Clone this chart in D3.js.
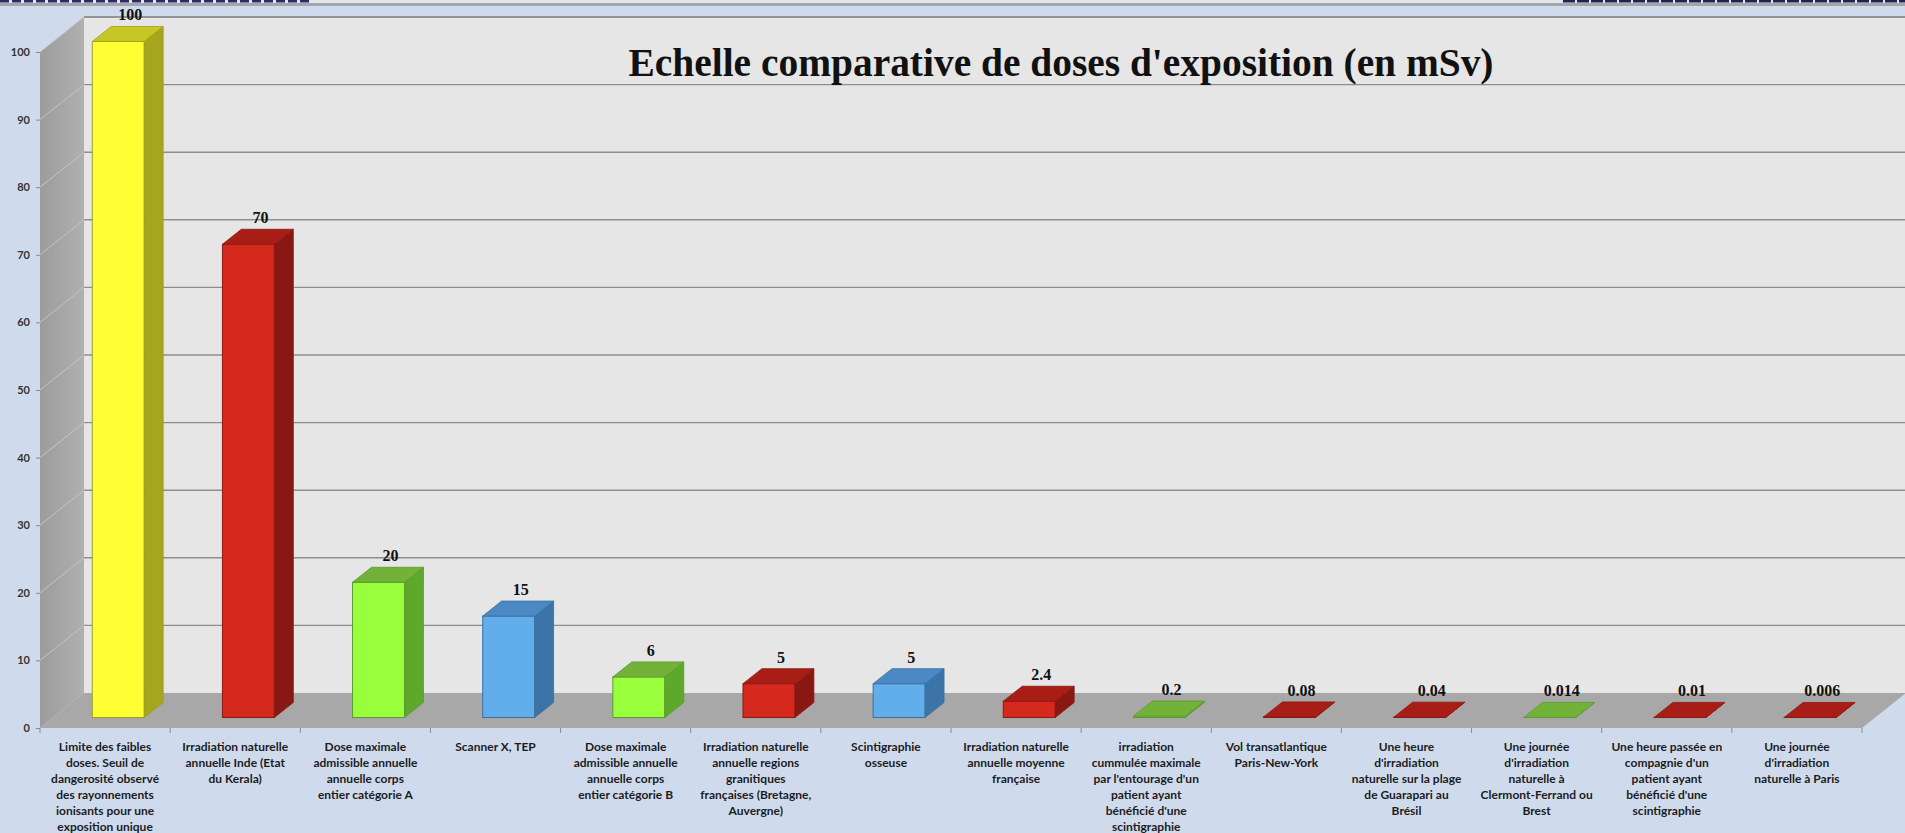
<!DOCTYPE html>
<html><head><meta charset="utf-8">
<script src="https://cdnjs.cloudflare.com/ajax/libs/d3/7.8.5/d3.min.js"></script>
<style>html,body{margin:0;padding:0;background:#cfdbed;overflow:hidden}</style>
</head><body>
<svg id="chart" width="1905" height="833"></svg>
<script>
// ---- data ----
const categories = [
  "Limite des faibles|doses. Seuil de|dangerosité observé|des rayonnements|ionisants pour une|exposition unique",
  "Irradiation naturelle|annuelle Inde (Etat|du Kerala)",
  "Dose maximale|admissible annuelle|annuelle corps|entier catégorie A",
  "Scanner X, TEP",
  "Dose maximale|admissible annuelle|annuelle corps|entier catégorie B",
  "Irradiation naturelle|annuelle regions|granitiques|françaises (Bretagne,|Auvergne)",
  "Scintigraphie|osseuse",
  "Irradiation naturelle|annuelle moyenne|française",
  "irradiation|cummulée maximale|par l'entourage d'un|patient ayant|bénéficié d'une|scintigraphie",
  "Vol transatlantique|Paris-New-York",
  "Une heure|d'irradiation|naturelle sur la plage|de Guarapari au|Brésil",
  "Une journée|d'irradiation|naturelle à|Clermont-Ferrand ou|Brest",
  "Une heure passée en|compagnie d'un|patient ayant|bénéficié d'une|scintigraphie",
  "Une journée|d'irradiation|naturelle à Paris"
];
const values = [100, 70, 20, 15, 6, 5, 5, 2.4, 0.2, 0.08, 0.04, 0.014, 0.01, 0.006];
const valueLabels = ["100","70","20","15","6","5","5","2.4","0.2","0.08","0.04","0.014","0.01","0.006"];
const colorGroups = ["yellow","red","green","blue","green","red","blue","red","green","red","red","green","red","red"];
const yTicks = [0,10,20,30,40,50,60,70,80,90,100];
const title = "Echelle comparative de doses d'exposition (en mSv)";

const palette = {
  yellow: {front:"#ffff33", side:"#a5a51e", top:"#c6c625", edge:"#a0a020"},
  red:    {front:"#d4291c", side:"#891813", top:"#a81d16", edge:"#8a1a14"},
  green:  {front:"#99ff3c", side:"#5ea82b", top:"#72b238", edge:"#5a9a2e"},
  blue:   {front:"#62aeeb", side:"#3c74a8", top:"#4b89c4", edge:"#3a70a0"}
};

// ---- layout ----
const svg = d3.select("#chart");
const D = {dx:44, dy:-35};
const x = d3.scaleBand().domain(d3.range(categories.length)).range([40,1862]).padding(0);
const y = d3.scaleLinear().domain([0,100]).range([728,52]);
const bw = x.bandwidth();
const barW = 52, f0 = 0.3, f1 = 0.73;

// top strip
svg.append("rect").attr("x",0).attr("y",0).attr("width",1905).attr("height",3).attr("fill","#e4e4ea");
svg.append("line").attr("x1",0).attr("x2",310).attr("y1",1.2).attr("y2",1.2)
  .attr("stroke","#2c2c62").attr("stroke-width",2.6).attr("stroke-dasharray","9,3");
svg.append("line").attr("x1",1563).attr("x2",1905).attr("y1",1.2).attr("y2",1.2)
  .attr("stroke","#22224e").attr("stroke-width",2.6).attr("stroke-dasharray","12,2");
svg.append("rect").attr("x",0).attr("y",3).attr("width",1905).attr("height",3).attr("fill","#a3a6ae");

// back wall
const wallTop = y(100)+D.dy, wallBottom = y(0)+D.dy;
svg.append("rect").attr("x",40+D.dx).attr("y",wallTop).attr("width",1905-40-D.dx).attr("height",wallBottom-wallTop)
  .attr("fill","#e6e6e6");
svg.append("line").attr("x1",40+D.dx).attr("x2",1905).attr("y1",wallTop).attr("y2",wallTop)
  .attr("stroke","#9a9aa2").attr("stroke-width",1.5);

// left wall
const lg = svg.append("defs").append("linearGradient").attr("id","lw").attr("x1","0").attr("x2","1").attr("y1","0").attr("y2","0");
lg.append("stop").attr("offset","0").attr("stop-color","#9c9c9c");
lg.append("stop").attr("offset","1").attr("stop-color","#b0b0b0");
svg.append("polygon")
  .attr("points",[[40,y(100)],[40+D.dx,wallTop],[40+D.dx,wallBottom],[40,y(0)]].map(p=>p.join(",")).join(" "))
  .attr("fill","url(#lw)");

// gridlines
yTicks.filter(t=>t>0).forEach(t=>{
  svg.append("line").attr("x1",40+D.dx).attr("x2",1905).attr("y1",y(t)+D.dy).attr("y2",y(t)+D.dy)
    .attr("stroke","#8e8e8e").attr("stroke-width",1.4);
  svg.append("line").attr("x1",40).attr("x2",40+D.dx).attr("y1",y(t)).attr("y2",y(t)+D.dy)
    .attr("stroke","#c4c4c4").attr("stroke-width",1);
});

// floor
svg.append("polygon")
  .attr("points",[[40,y(0)],[40+D.dx,wallBottom],[1862+D.dx,wallBottom],[1862,y(0)]].map(p=>p.join(",")).join(" "))
  .attr("fill","#a8a8a8");

// y axis
const ya = svg.append("g").attr("transform","translate(40,0)")
  .call(d3.axisLeft(y).tickValues(yTicks).tickSize(4).tickPadding(6));
ya.select(".domain").remove();
ya.selectAll("line").attr("stroke","#888");
ya.selectAll("text").attr("font-family","Lato").attr("font-weight","700").attr("font-size",11).attr("fill","#333");

// x axis ticks
const xa = svg.append("g").attr("transform",`translate(0,${y(0)})`)
  .call(d3.axisBottom(x).tickSize(0).tickFormat(""));
xa.select(".domain").remove();
xa.selectAll(".tick").remove();
d3.range(categories.length+1).forEach(i=>{
  const xx = i<categories.length ? x(i) : x(categories.length-1)+bw;
  xa.append("line").attr("x1",xx).attr("x2",xx).attr("y1",0).attr("y2",5).attr("stroke","#8a8a8a");
});

// bars
const sdx = (f1-f0)*D.dx, sdy = (f1-f0)*D.dy;
const bars = svg.append("g");
values.forEach((v,i)=>{
  const c = palette[colorGroups[i]];
  const xf = x(i) + (bw-barW)/2 + f0*D.dx;
  const yb = y(0) + f0*D.dy, yt = y(v) + f0*D.dy;
  const g = bars.append("g");
  g.append("rect").attr("x",xf).attr("y",yt).attr("width",barW).attr("height",Math.max(0,yb-yt))
    .attr("fill",c.front).attr("stroke",c.edge).attr("stroke-width",1);
  g.append("polygon").attr("points",[[xf+barW,yt],[xf+barW+sdx,yt+sdy],[xf+barW+sdx,yb+sdy],[xf+barW,yb]].map(p=>p.join(",")).join(" "))
    .attr("fill",c.side).attr("stroke",c.edge).attr("stroke-width",0.8);
  g.append("polygon").attr("points",[[xf,yt],[xf+sdx,yt+sdy],[xf+barW+sdx,yt+sdy],[xf+barW,yt]].map(p=>p.join(",")).join(" "))
    .attr("fill",c.top).attr("stroke",c.edge).attr("stroke-width",0.8);
  g.append("text").attr("x",xf+barW/2+12).attr("y",yt+sdy-6).attr("text-anchor","middle")
    .attr("font-family","Liberation Serif").attr("font-weight","700").attr("font-size",16).attr("fill","#111")
    .text(valueLabels[i]);
});

// category labels
categories.forEach((c,i)=>{
  const t = svg.append("text").attr("text-anchor","middle")
    .attr("font-family","Lato").attr("font-weight","700").attr("font-size",12).attr("fill","#1c1c1c");
  c.split("|").forEach((line,k)=>{
    t.append("tspan").attr("x",x(i)+bw/2).attr("y",751+k*16).text(line);
  });
});

// title
svg.append("text").attr("x",1061).attr("y",76).attr("text-anchor","middle")
  .attr("font-family","Liberation Serif").attr("font-weight","700").attr("font-size",40)
  .attr("textLength",865).attr("lengthAdjust","spacingAndGlyphs").attr("fill","#111").text(title);
</script>
</body></html>
